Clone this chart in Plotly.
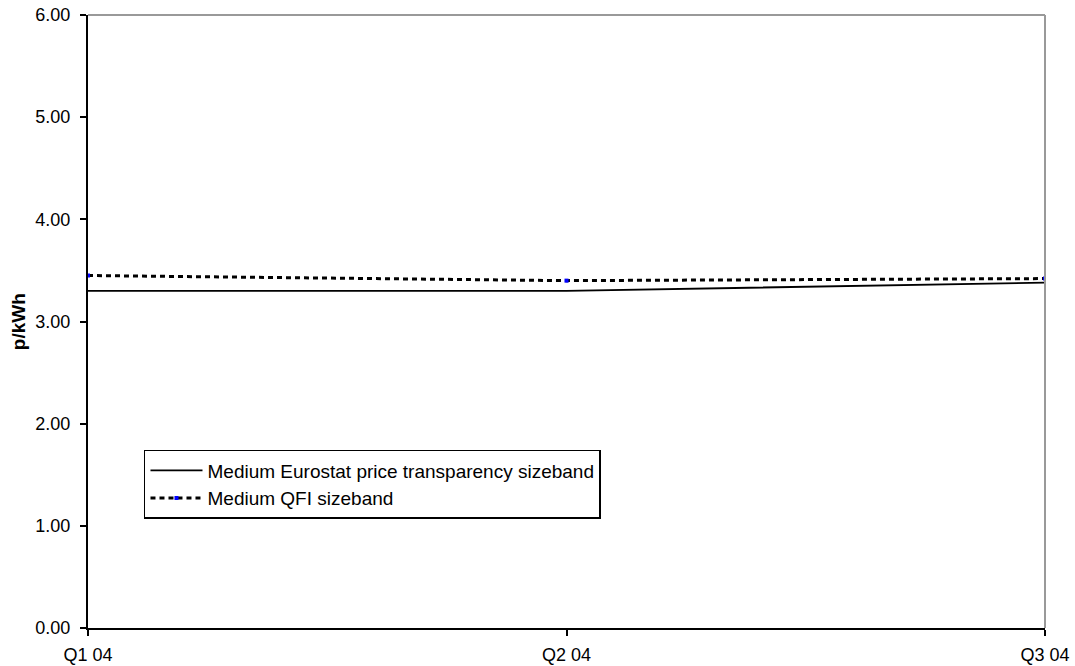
import plotly.graph_objects as go

quarters = ["Q1 04", "Q2 04", "Q3 04"]
eurostat_medium = [3.30, 3.30, 3.38]
qfi_medium = [3.45, 3.40, 3.42]
y_ticks = [0, 1, 2, 3, 4, 5, 6]
y_tick_text = ["0.00", "1.00", "2.00", "3.00", "4.00", "5.00", "6.00"]

fig = go.Figure()
fig.add_trace(go.Scatter(
    x=quarters, y=eurostat_medium, mode="lines",
    name="Medium Eurostat price transparency sizeband",
    line=dict(color="black", width=1.8),
))
fig.add_trace(go.Scatter(
    x=quarters, y=qfi_medium, mode="lines+markers",
    name="Medium QFI sizeband",
    line=dict(color="black", width=3, dash="5px,4px"),
    marker=dict(color="#0000ff", size=4, symbol="square"),
))

fig.update_layout(
    width=1075, height=666,
    margin=dict(l=88, r=30, t=15, b=38),
    paper_bgcolor="white", plot_bgcolor="white",
    font=dict(family="Arial, Liberation Sans, sans-serif", size=18, color="black"),
    showlegend=True,
    legend=dict(
        x=0.0585, y=0.2904, xanchor="left", yanchor="top",
        bordercolor="black", borderwidth=1.5, bgcolor="white",
        font=dict(size=19), tracegroupgap=0, itemwidth=52,
    ),
    xaxis=dict(
        type="category", range=[0, 2], showgrid=False, zeroline=False,
        showline=True, linecolor="black", linewidth=2,
        ticks="outside", ticklen=6, tickcolor="black", tickwidth=1.5,
        ticklabelstandoff=3, automargin=False,
    ),
    yaxis=dict(
        range=[0, 6], tickvals=y_ticks, ticktext=y_tick_text,
        showgrid=False, zeroline=False,
        showline=True, linecolor="black", linewidth=2,
        ticks="outside", ticklen=6, tickcolor="black", tickwidth=1.5,
        ticklabelstandoff=6, automargin=False,
    ),
    annotations=[
        dict(text="<b>p/kWh</b>", xref="paper", yref="paper",
             x=-0.0731, y=0.499, textangle=-90, showarrow=False,
             font=dict(size=19), xanchor="center", yanchor="middle"),
    ],
    shapes=[
        dict(type="line", xref="paper", yref="paper", x0=0, x1=1, y0=1, y1=1,
             line=dict(color="#999999", width=2)),
        dict(type="line", xref="paper", yref="paper", x0=1, x1=1, y0=0, y1=1,
             line=dict(color="#999999", width=2)),
    ],
)

fig.write_html("out.html")
